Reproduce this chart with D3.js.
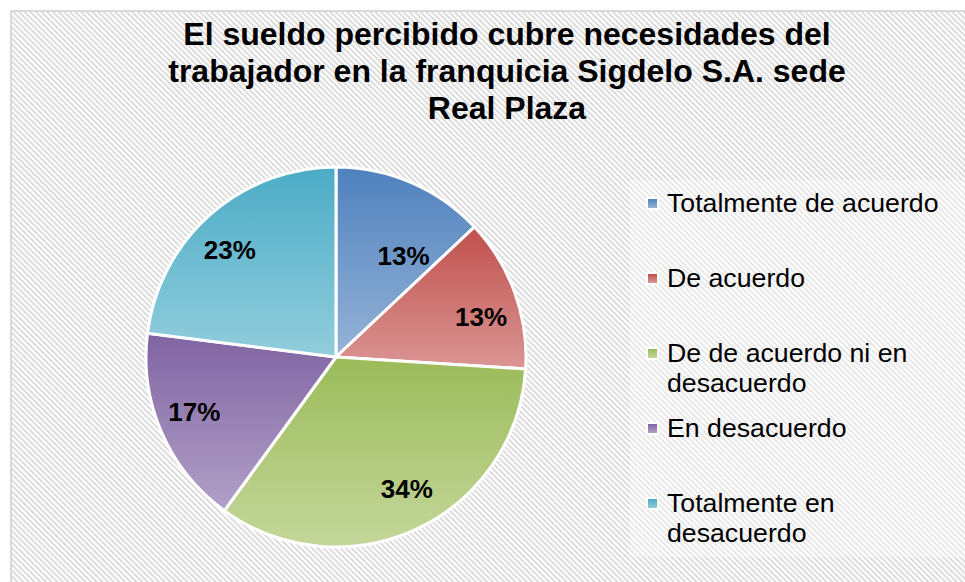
<!DOCTYPE html>
<html lang="es">

<head>
  <meta charset="utf-8">
  <title>sueldoPie</title>
  <script src="https://cdn.jsdelivr.net/npm/d3@7/dist/d3.min.js"></script>
  <style type="text/css">
    body {
      margin: 0;
      background: #ffffff;
    }

    #chartTitle {
      text-anchor: middle;
      font-family: "Liberation Sans", Arial, sans-serif;
      font-size: 32px;
      font-weight: bold;
      fill: #000000;
    }

    text.sliceLabel {
      text-anchor: middle;
      font-family: "Liberation Sans", Arial, sans-serif;
      font-size: 26px;
      font-weight: bold;
      fill: #000000;
    }

    text.legendText {
      font-family: "Liberation Sans", Arial, sans-serif;
      font-size: 26.7px;
      fill: #000000;
    }
  </style>
</head>

<body>
  <script>

    // data
    const categories = [
      ["Totalmente de acuerdo"],
      ["De acuerdo"],
      ["De de acuerdo ni en", "desacuerdo"],
      ["En desacuerdo"],
      ["Totalmente en", "desacuerdo"]
    ];
    const percents = [13, 13, 34, 17, 23];
    const titleLines = [
      "El sueldo percibido cubre necesidades del",
      "trabajador en la franquicia Sigdelo S.A. sede",
      "Real Plaza"
    ];
    const topColors = ["#4f81bd", "#c0504d", "#9bbb59", "#8064a2", "#4bacc6"];
    const bottomColors = ["#95b3d7", "#da9694", "#c4d79b", "#b1a0c7", "#92cddc"];

    // config
    const width = 965, height = 582;
    const cx = 336, cy = 357, radius = 190;
    const labelRadius = 150;

    const svg = d3.select("body").append("svg")
      .attr("width", width).attr("height", height);
    const defs = svg.append("defs");

    // hatched background
    const hatch = defs.append("pattern")
      .attr("id", "hatch")
      .attr("patternUnits", "userSpaceOnUse")
      .attr("width", 4).attr("height", 4)
      .attr("patternTransform", "rotate(-45)");
    hatch.append("rect").attr("width", 4).attr("height", 4).attr("fill", "#ffffff");
    hatch.append("rect").attr("width", 2).attr("height", 4).attr("fill", "#dcdcdc");

    svg.append("rect")
      .attr("x", 11).attr("y", 11)
      .attr("width", width).attr("height", height)
      .attr("fill", "url(#hatch)")
      .attr("stroke", "#d9d9d9").attr("stroke-width", 2);

    // title
    svg.append("text").attr("id", "chartTitle")
      .selectAll("tspan").data(titleLines).join("tspan")
      .attr("x", 507)
      .attr("y", (d, i) => 45 + i * 37)
      .text(d => d);

    // gradients, one per slice
    topColors.forEach((c, i) => {
      const g = defs.append("linearGradient")
        .attr("id", "grad" + i)
        .attr("x1", 0).attr("y1", 0).attr("x2", 0).attr("y2", 1);
      g.append("stop").attr("offset", "0%").attr("stop-color", c);
      g.append("stop").attr("offset", "100%").attr("stop-color", bottomColors[i]);
    });

    // pie
    const pie = d3.pie().sort(null).value(d => d);
    const arcs = pie(percents);
    const arc = d3.arc().innerRadius(0).outerRadius(radius);
    const labelArc = d3.arc().innerRadius(labelRadius).outerRadius(labelRadius);

    const pieGroup = svg.append("g")
      .attr("transform", `translate(${cx},${cy})`);

    pieGroup.selectAll("path").data(arcs).join("path")
      .attr("d", arc)
      .attr("fill", (d, i) => `url(#grad${i})`)
      .attr("stroke", "#ffffff")
      .attr("stroke-width", 3)
      .attr("stroke-linejoin", "round");

    // Excel's "best fit" moves labels a bit off the centroid
    const labelShift = [[8, 36], [4, 10], [7, -4], [-4, -5], [-7, 5]];
    pieGroup.selectAll("text.sliceLabel").data(arcs).join("text")
      .attr("class", "sliceLabel")
      .attr("x", (d, i) => labelArc.centroid(d)[0] + labelShift[i][0])
      .attr("y", (d, i) => labelArc.centroid(d)[1] + labelShift[i][1])
      .attr("dy", "0.36em")
      .text(d => d.data + "%");

    // legend
    svg.append("rect")
      .attr("x", 630).attr("y", 180)
      .attr("width", 340).attr("height", 377)
      .attr("fill", "#ffffff").attr("opacity", 0.35);

    const legendY = d3.scalePoint()
      .domain(d3.range(categories.length))
      .range([212, 512]);

    const legend = svg.append("g").selectAll("g").data(categories).join("g")
      .attr("transform", (d, i) => `translate(648,${legendY(i)})`);

    legend.append("rect")
      .attr("x", -2).attr("y", -15)
      .attr("width", 13).attr("height", 13)
      .attr("fill", "#ffffff");
    legend.append("rect")
      .attr("x", 0).attr("y", -13)
      .attr("width", 9).attr("height", 9)
      .attr("fill", (d, i) => `url(#grad${i})`);

    legend.append("text").attr("class", "legendText")
      .selectAll("tspan").data(d => d).join("tspan")
      .attr("x", 19)
      .attr("y", (d, j) => j * 30)
      .text(d => d);

  </script>
</body>

</html>
